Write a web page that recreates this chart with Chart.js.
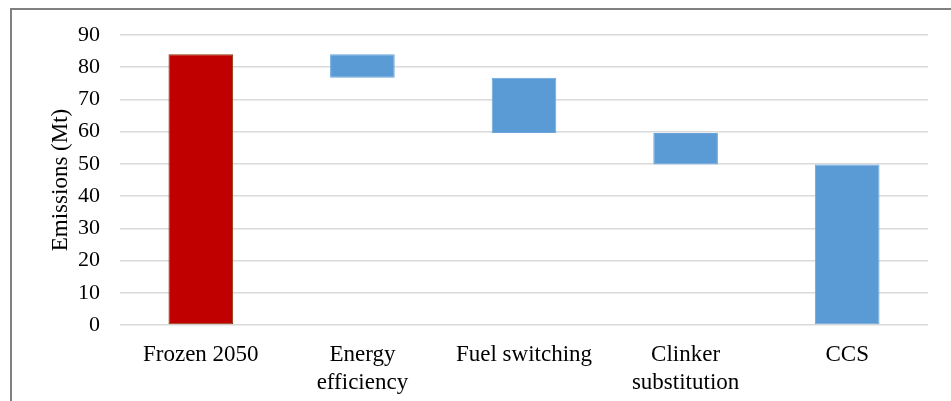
<!DOCTYPE html>
<html>
<head>
<meta charset="utf-8">
<script src="https://cdn.jsdelivr.net/npm/chart.js@4.4.0/dist/chart.umd.min.js"></script>
<style>
  body { margin: 0; background: #fff; }
  #wrap { position: relative; width: 951px; height: 401px; }
  #frame {
    position: absolute; left: 10px; top: 8px; right: 0; bottom: 0;
    border-left: 2px solid #808080; border-top: 2px solid #808080;
    pointer-events: none;
  }
</style>
</head>
<body>
<div id="wrap">
  <canvas id="myChart" width="951" height="401"></canvas>
  <div id="frame"></div>
</div>
<script>
// categories and waterfall values (Mt)
var labels = ['Frozen 2050', ['Energy', 'efficiency'], 'Fuel switching', ['Clinker', 'substitution'], 'CCS'];
var barLow  = [0, 76.7, 59.6, 49.8, 0];
var barHigh = [84, 84, 76.7, 59.6, 49.8];
var yTicks = [0, 10, 20, 30, 40, 50, 60, 70, 80, 90];

var ranges = barLow.map(function (v, i) { return [v, barHigh[i]]; });

var fontFam = '"Liberation Serif", "DejaVu Serif", serif';

var ctx = document.getElementById('myChart').getContext('2d');
var myChart = new Chart(ctx, {
  type: 'bar',
  data: {
    labels: labels,
    datasets: [{
      data: ranges,
      backgroundColor: ['#c00000', '#5b9bd5', '#5b9bd5', '#5b9bd5', '#5b9bd5'],
      borderColor: ['#843c0c', '#6aa5dc', '#6aa5dc', '#6aa5dc', '#6aa5dc'],
      borderWidth: 1,
      borderSkipped: false,
      barPercentage: 0.4,
      categoryPercentage: 1.0
    }]
  },
  options: {
    responsive: false,
    animation: false,
    layout: { padding: { left: 0, right: 23, top: 35, bottom: 0 } },
    plugins: {
      legend: { display: false },
      tooltip: { enabled: false }
    },
    scales: {
      x: {
        afterFit: function (axis) { axis.height = 76; },
        grid: { display: false },
        border: { display: false },
        ticks: {
          color: '#000',
          padding: 8,
          maxRotation: 0,
          autoSkip: false,
          font: { family: fontFam, size: 23, lineHeight: 1.22 }
        }
      },
      y: {
        min: 0,
        max: 90,
        afterBuildTicks: function (axis) {
          axis.ticks = yTicks.map(function (v) { return { value: v }; });
        },
        afterFit: function (axis) { axis.width = 120; },
        grid: { color: '#d9d9d9', lineWidth: 1.5, drawTicks: false },
        border: { display: false },
        ticks: {
          color: '#000',
          padding: 20,
          font: { family: fontFam, size: 22 }
        },
        title: {
          display: true,
          text: 'Emissions (Mt)',
          color: '#000',
          padding: { top: 47, bottom: 0 },
          font: { family: fontFam, size: 23 }
        }
      }
    }
  }
});
</script>
</body>
</html>
